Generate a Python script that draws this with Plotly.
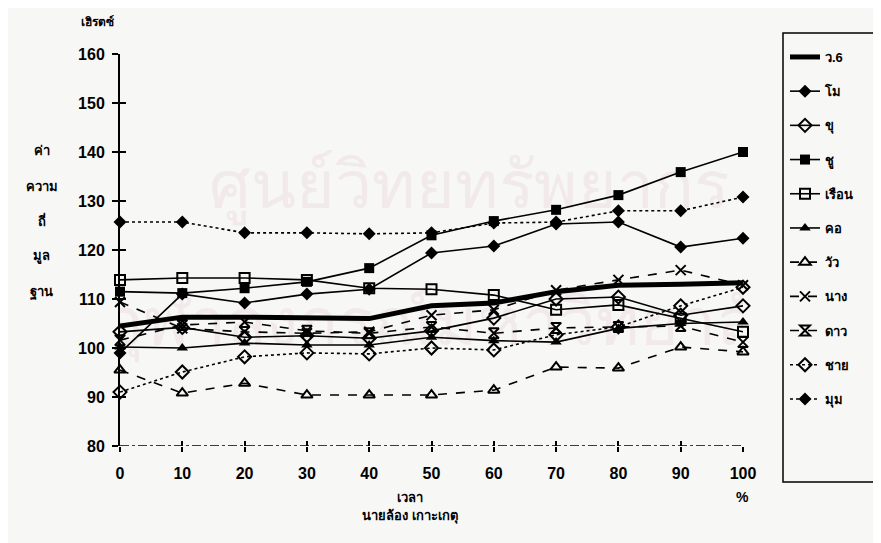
import plotly.graph_objects as go

# ---------------- data ----------------
time_pct = [0, 10, 20, 30, 40, 50, 60, 70, 80, 90, 100]

series_names = ["ว.6", "โม", "ขุ", "ชู", "เรือน", "คอ", "วัว", "นาง", "ดาว", "ชาย", "มุม"]

v6     = [104.5, 106.3, 106.3, 106.2, 106.0, 108.6, 109.2, 111.5, 112.8, 113.0, 113.3]
mo     = [99.0, 111.0, 109.2, 111.0, 112.0, 119.4, 120.8, 125.3, 125.7, 120.6, 122.4]
khu    = [103.3, 104.2, 102.2, 102.5, 102.0, 103.5, 106.1, 110.0, 110.4, 106.7, 108.6]
chu    = [111.5, 111.2, 112.2, 113.5, 116.3, 123.0, 125.9, 128.2, 131.2, 135.9, 140.0]
ruean  = [113.9, 114.3, 114.3, 113.9, 112.2, 112.0, 110.8, 107.8, 108.8, 106.0, 103.3]
kho    = [100.2, 100.0, 101.0, 100.6, 100.6, 102.2, 101.5, 101.2, 104.0, 105.0, 105.3]
wua    = [95.5, 90.8, 92.8, 90.4, 90.4, 90.4, 91.4, 96.1, 95.9, 100.2, 99.2]
nang   = [109.4, 104.0, 103.3, 103.0, 103.3, 106.7, 107.8, 111.8, 113.9, 115.9, 112.8]
dao    = [101.6, 104.7, 105.3, 103.5, 103.0, 104.3, 103.0, 104.1, 104.3, 104.5, 101.2]
chai   = [91.0, 95.1, 98.2, 99.0, 98.8, 100.0, 99.6, 102.7, 104.3, 108.6, 112.4]
mum    = [125.7, 125.7, 123.5, 123.5, 123.3, 123.5, 125.5, 125.7, 128.0, 128.0, 130.8]

y_ticks = [80, 90, 100, 110, 120, 130, 140, 150, 160]
x_ticks = [0, 10, 20, 30, 40, 50, 60, 70, 80, 90, 100]

# ---------------- styles ----------------
styles = [
    dict(symbol=None, dash="solid", width=5),
    dict(symbol="diamond", dash="solid", width=1.6),
    dict(symbol="diamond-open", dash="solid", width=1.6),
    dict(symbol="square", dash="solid", width=1.6),
    dict(symbol="square-open", dash="solid", width=1.6),
    dict(symbol="triangle-up", dash="solid", width=1.6),
    dict(symbol="triangle-up-open", dash="dash", width=1.6),
    dict(symbol="x-thin-open", dash="dash", width=1.6),
    dict(symbol="hourglass-open", dash="dash", width=1.6),
    dict(symbol="diamond-open", dash="dot", width=1.6),
    dict(symbol="diamond", dash="dot", width=1.6),
]
values = [v6, mo, khu, chu, ruean, kho, wua, nang, dao, chai, mum]

FONT = "Liberation Sans, Noto Sans, DejaVu Sans, sans-serif"
OFF = 8  # page body margin
W, H = 881, 543
L, R, T, B = 112, 146, 46, 105
PW, PH = W - L - R, H - T - B


def px(xp, yp):
    """reference-screen pixel -> paper coordinates"""
    xf, yf = xp - OFF, yp - OFF
    return (xf - L) / PW, (H - B - yf) / PH


fig = go.Figure()

# faint scanned watermark (beneath the data)
fig.add_trace(go.Scatter(
    x=[56, 53], y=[132, 104], mode="text",
    text=["ศูนย์วิทยทรัพยากร", "จุฬาลงกรณ์มหาวิทยาลัย"],
    textfont=dict(size=[66, 66], color="rgba(225,185,205,0.22)", family=FONT),
    showlegend=False, hoverinfo="skip"))

for name, vals, st in zip(series_names, values, styles):
    if st["symbol"] is None:
        mode = "lines"
        marker = None
    else:
        mode = "lines+markers"
        sym = st["symbol"]
        if sym.endswith("open"):
            marker = dict(symbol=sym, size=10, color="black", line=dict(color="black", width=2))
        else:
            marker = dict(symbol=sym, size=10, color="black", line=dict(width=0))
    fig.add_trace(go.Scatter(
        x=time_pct, y=vals, name=name, mode=mode,
        line=dict(color="black", width=st["width"], dash=st["dash"]),
        marker=marker, legendgroup=name, cliponaxis=False))

# invisible trace for secondary axes (crossing ticks)
fig.add_trace(go.Scatter(x=[0], y=[80], xaxis="x2", yaxis="y2", mode="markers",
                         marker=dict(opacity=0), showlegend=False, hoverinfo="skip"))

axis_font = dict(family=FONT, size=16, color="black", weight="bold")
lgx, lgy = px(785, 42)
fig.update_layout(
    width=W, height=H,
    margin=dict(l=L, r=R, t=T, b=B),
    paper_bgcolor="#f7f7f5", plot_bgcolor="rgba(0,0,0,0)",
    font=dict(family=FONT, color="black"),
    showlegend=True,
    legend=dict(x=lgx, y=lgy, xanchor="left", yanchor="top",
                bgcolor="rgba(0,0,0,0)", borderwidth=0,
                font=dict(family=FONT, size=13, color="black", weight="bold"),
                tracegroupgap=14.3, itemwidth=30, maxheight=500),
    xaxis=dict(range=[0, 100], tickvals=x_ticks, ticktext=[str(v) for v in x_ticks],
               showgrid=False, zeroline=False, showline=False,
               ticks="outside", ticklen=5, tickwidth=1.5, tickcolor="black",
               tickfont=axis_font, ticklabelstandoff=8),
    yaxis=dict(range=[80, 160], tickvals=y_ticks, ticktext=[str(v) for v in y_ticks],
               showgrid=False, zeroline=False, showline=True, linewidth=2, linecolor="black",
               ticks="outside", ticklen=6, tickwidth=1.5, tickcolor="black",
               tickfont=axis_font, ticklabelstandoff=4),
    xaxis2=dict(range=[0, 100], overlaying="x", side="bottom", tickvals=x_ticks,
                showticklabels=False, showgrid=False, zeroline=False, showline=False,
                ticks="inside", ticklen=5, tickwidth=1.5, tickcolor="black"),
    yaxis2=dict(range=[80, 160], overlaying="y", side="left", tickvals=y_ticks,
                showticklabels=False, showgrid=False, zeroline=False, showline=False,
                ticks="inside", ticklen=6, tickwidth=1.5, tickcolor="black"),
)

# dash-dot baseline of the x axis
fig.add_shape(type="line", xref="x", yref="y", x0=0, x1=100, y0=80, y1=80,
              line=dict(color="black", width=1.5, dash="dashdot"))

# legend frame
lx0, ly0 = px(783, 33)
lx1, ly1 = px(895, 482)
fig.add_shape(type="rect", xref="paper", yref="paper", x0=lx0, x1=lx1, y0=ly1, y1=ly0,
              line=dict(color="black", width=1.5), fillcolor="rgba(0,0,0,0)")

texts = [
    ("เฮิรตซ์", 97, 22, 12),
    ("ค่า", 42, 150, 13),
    ("ความ", 42, 186, 13),
    ("ถี่", 42, 220, 13),
    ("มูล", 42, 256, 13),
    ("ฐาน", 42, 292, 13),
    ("เวลา", 410, 497, 13),
    ("%", 742, 497, 14),
    ("นายล้อง เกาะเกตุ", 410, 516, 13),
]
for t, xp_, yp_, s in texts:
    ax, ay = px(xp_, yp_)
    fig.add_annotation(text="<b>%s</b>" % t, x=ax, y=ay, xref="paper", yref="paper",
                       showarrow=False, xanchor="center", yanchor="middle",
                       font=dict(family=FONT, size=s, color="black"))

fig.write_html("out.html")
